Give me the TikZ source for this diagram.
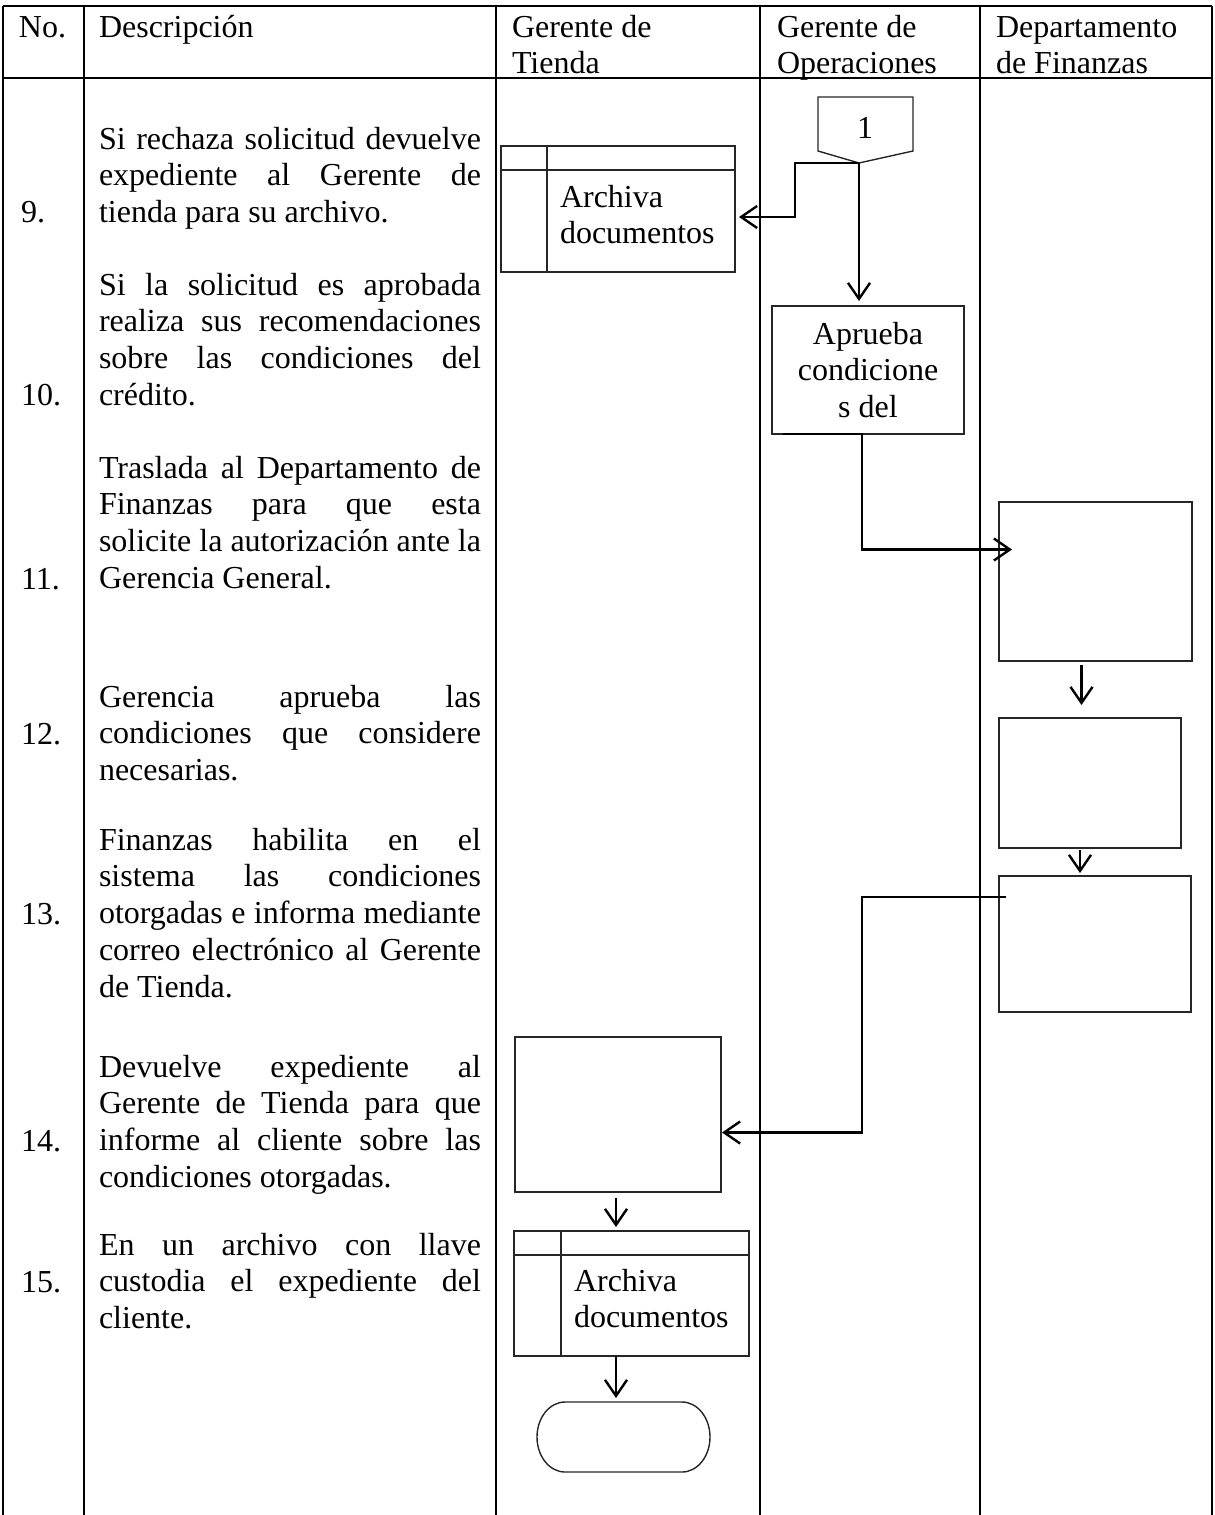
\documentclass[tikz,border=0pt]{standalone}
\usepackage{fontspec}
\setmainfont{Liberation Serif}
\usetikzlibrary{calc,arrows.meta}

% one justified line of the description column
\newcommand\jline[1]{\makebox[382pt][s]{#1}}

\tikzset{
  rule/.style={line width=2.8pt},
  boxline/.style={draw=black!85, line width=1.4pt},
  box/.style={boxline, rectangle, inner sep=0pt, outer sep=0pt},
  txt/.style={inner sep=0pt, outer sep=0pt, anchor=base west},
  num/.style={inner sep=0pt, outer sep=0pt, anchor=base west},
  conn/.style={line width=2.7pt,
    -{Straight Barb[length=16pt,width=22pt,line width=2.4pt]}},
}

\begin{document}
\begin{tikzpicture}[x=1pt, y=-1pt, font=\fontsize{32}{36.8}\selectfont]
\useasboundingbox (0,0) rectangle (1215,1515);

% ---- table rules ----
\draw[rule] (3,6) -- (1212,6);
\draw[rule] (3,78) -- (1212,78);
\foreach \x in {3,84,496,760,980,1212}
  \draw[rule] (\x,6) -- (\x,1515);

% ---- header ----
\node[txt] (hNo)   at (19,37)  {No.};
\node[txt] (hDesc) at (99,37)  {Descripción};
\node[txt] (hGT)   at (512,37) {\parbox[t]{240pt}{Gerente de\\Tienda}};
\node[txt] (hGO)   at (777,37) {\parbox[t]{200pt}{Gerente de\\Operaciones}};
\node[txt] (hDF)   at (996,37) {\parbox[t]{210pt}{Departamento\\de Finanzas}};

% ---- step numbers ----
\node[num] (n9)  at (21,222)  {9.};
\node[num] (n10) at (21,405)  {10.};
\node[num] (n11) at (21,589)  {11.};
\node[num] (n12) at (21,744)  {12.};
\node[num] (n13) at (21,924)  {13.};
\node[num] (n14) at (21,1151) {14.};
\node[num] (n15) at (21,1292) {15.};

% ---- descriptions ----
\node[txt] (d9) at (99,149) {\parbox[t]{382pt}{%
  \jline{Si rechaza solicitud devuelve}\\
  \jline{expediente al Gerente de}\\
  tienda para su archivo.}};
\node[txt] (d10) at (99,295) {\parbox[t]{382pt}{%
  \jline{Si la solicitud es aprobada}\\
  \jline{realiza sus recomendaciones}\\
  \jline{sobre las condiciones del}\\
  crédito.}};
\node[txt] (d11) at (99,478) {\parbox[t]{382pt}{%
  \jline{Traslada al Departamento de}\\
  \jline{Finanzas para que esta}\\
  \jline{solicite la autorización ante la}\\
  Gerencia General.}};
\node[txt] (d12) at (99,707) {\parbox[t]{382pt}{%
  \jline{Gerencia aprueba las}\\
  \jline{condiciones que considere}\\
  necesarias.}};
\node[txt] (d13) at (99,850) {\parbox[t]{382pt}{%
  \jline{Finanzas habilita en el}\\
  \jline{sistema las condiciones}\\
  \jline{otorgadas e informa mediante}\\
  \jline{correo electrónico al Gerente}\\
  de Tienda.}};
\node[txt] (d14) at (99,1077) {\parbox[t]{382pt}{%
  \jline{Devuelve expediente al}\\
  \jline{Gerente de Tienda para que}\\
  \jline{informe al cliente sobre las}\\
  condiciones otorgadas.}};
\node[txt] (d15) at (99,1255) {\parbox[t]{382pt}{%
  \jline{En un archivo con llave}\\
  \jline{custodia el expediente del}\\
  cliente.}};

% ---- off-page connector 1 ----
\coordinate (tip) at (859,163);
\draw[boxline] (818,97) -- (913,97) -- (913,151) -- (tip) -- (818,151) -- cycle;
\node[txt, anchor=base] (one) at (865,138) {1};

% ---- archive (Gerente de Tienda) ----
\node[box, minimum width=234pt, minimum height=126pt] (arch1) at (618,209) {};
\draw[boxline] ($(arch1.north west)+(0,24)$) -- ($(arch1.north east)+(0,24)$);
\draw[boxline] ($(arch1.north west)+(46,0)$) -- ($(arch1.south west)+(46,0)$);
\node[txt] (arch1t) at (560,207) {\parbox[t]{180pt}{Archiva\\documentos}};

% ---- Gerente de Operaciones ----
\node[box, minimum width=192pt, minimum height=128pt, align=center]
  (aprueba) at (868,370) {Aprueba\\condicione\\s del};

% ---- Departamento de Finanzas ----
\node[box, minimum width=193pt, minimum height=159pt] (fin1) at (1095.5,581.5) {};
\node[box, minimum width=182pt, minimum height=130pt] (fin2) at (1090,783) {};
\node[box, minimum width=192pt, minimum height=136pt] (fin3) at (1095,944) {};

% ---- Gerente de Tienda, lower part ----
\node[box, minimum width=206pt, minimum height=155pt] (b14) at (618,1114.5) {};
\node[box, minimum width=235pt, minimum height=125pt] (arch2) at (631.5,1293.5) {};
\draw[boxline] ($(arch2.north west)+(0,24)$) -- ($(arch2.north east)+(0,24)$);
\draw[boxline] ($(arch2.north west)+(47,0)$) -- ($(arch2.south west)+(47,0)$);
\node[txt] (arch2t) at (574,1291) {\parbox[t]{180pt}{Archiva\\documentos}};

% terminal
\node[inner sep=0pt, outer sep=0pt, minimum width=173pt, minimum height=70pt] (term) at (623.5,1437) {};
\draw[boxline]
  ($(term.north west)+(28,0)$) -- ($(term.north east)+(-28,0)$)
  .. controls ($(term.north east)+(-12.5,0)$) and ($(term.east)+(0,-19.3)$) .. (term.east)
  .. controls ($(term.east)+(0,19.3)$) and ($(term.south east)+(-12.5,0)$) .. ($(term.south east)+(-28,0)$)
  -- ($(term.south west)+(28,0)$)
  .. controls ($(term.south west)+(12.5,0)$) and ($(term.west)+(0,19.3)$) .. (term.west)
  .. controls ($(term.west)+(0,-19.3)$) and ($(term.north west)+(12.5,0)$) .. ($(term.north west)+(28,0)$)
  -- cycle;

% ---- connectors ----
\draw[conn] (tip) -- ++(-64,0) |- ($(arch1.east)+(4,8)$);
\draw[conn, shorten >=5pt] (tip) -- (tip |- aprueba.north);
\draw[conn] ($(aprueba.south west)+(11,0)$) -- ($(aprueba.south)+(-6,0)$)
  |- ($(fin1.west)+(13,-32)$);
\coordinate (f12) at ($(fin1.south)+(-14,0)$);
\draw[conn, shorten <=4pt, shorten >=13pt] (f12) -- (f12 |- fin2.north);
\coordinate (f23) at ($(fin2.south)+(-10,0)$);
\draw[conn, shorten <=2pt, shorten >=3pt] (f23) -- (f23 |- fin3.north);
\draw[conn] ($(fin3.west)+(7,-47)$) -- ++(-144,0) |- ($(b14.east)+(1,18)$);
\coordinate (b14a) at ($(b14.south)+(-2,0)$);
\draw[conn, shorten <=6pt, shorten >=4pt] (b14a) -- (b14a |- arch2.north);
\coordinate (a2t) at ($(arch2.south west)+(102,0)$);
\draw[conn, shorten >=4pt] (a2t) -- (a2t |- term.north);

\end{tikzpicture}
\end{document}
